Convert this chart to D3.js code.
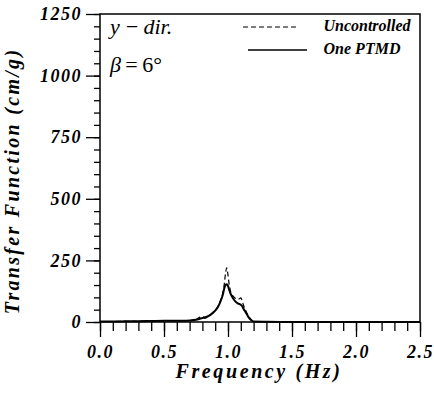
<!DOCTYPE html>
<html>
<head>
<meta charset="utf-8">
<script src="https://cdn.jsdelivr.net/npm/d3@7"></script>
<style>
  body { margin: 0; background: #fff; }
  svg { display: block; }
</style>
</head>
<body>
<div id="chart"></div>
<script>
// data
var freq = [0, 0.1, 0.2, 0.3, 0.4, 0.5, 0.55, 0.6, 0.65, 0.7, 0.75, 0.78, 0.8, 0.82, 0.85, 0.88, 0.9, 0.92, 0.94, 0.96, 0.97, 0.98, 0.99, 1.0, 1.01, 1.02, 1.04, 1.06, 1.08, 1.1, 1.11, 1.12, 1.14, 1.16, 1.18, 1.2, 1.3, 1.5, 2.0, 2.5]
var uncontrolled = [2, 2, 3, 3, 4, 6, 6, 5, 5, 6, 10, 20, 22, 15, 25, 38, 48, 62, 85, 120, 150, 195, 220, 190, 150, 125, 105, 95, 92, 98, 88, 70, 45, 25, 10, 2, 1, 0, 0, 0]
var onePTMD = [2, 2, 3, 3, 4, 5, 5, 5, 5, 6, 9, 13, 16, 19, 25, 36, 46, 60, 82, 112, 135, 150, 153, 146, 130, 115, 95, 82, 75, 70, 65, 55, 38, 20, 8, 2, 1, 0, 0, 0]
var xTicks = [0, 0.5, 1.0, 1.5, 2.0, 2.5]
var yTicks = [0, 250, 500, 750, 1000, 1250]

var margin = {top: 14, right: 14, bottom: 71, left: 100},
    width = 434 - margin.left - margin.right,
    height = 393 - margin.top - margin.bottom;

var svg = d3.select("#chart")
  .append("svg")
    .attr("width", 434)
    .attr("height", 393)
  .append("g")
    .attr("transform", "translate(" + margin.left + "," + margin.top + ")");

var x = d3.scaleLinear().domain([0, 2.5]).range([0, width])
var y = d3.scaleLinear().domain([0, 1250]).range([height, 0])

var serif = "'Liberation Serif', 'Times New Roman', serif"

// minor ticks
svg.append("g")
  .attr("transform", "translate(0," + height + ")")
  .call(d3.axisBottom(x).tickValues(d3.range(0, 2.51, 0.1)).tickSize(9).tickFormat(""))
  .call(g => g.select(".domain").remove())
svg.append("g")
  .call(d3.axisLeft(y).tickValues(d3.range(0, 1251, 50)).tickSize(6).tickFormat(""))
  .call(g => g.select(".domain").remove())

// major ticks
var xAxis = svg.append("g")
  .attr("transform", "translate(0," + height + ")")
  .call(d3.axisBottom(x).tickValues(xTicks).tickSize(15).tickPadding(8).tickFormat(d3.format(".1f")))
xAxis.select(".domain").remove()
var yAxis = svg.append("g")
  .call(d3.axisLeft(y).tickValues(yTicks).tickSize(14).tickPadding(4).tickFormat(d3.format("d")))
yAxis.select(".domain").remove()

svg.selectAll(".tick line").attr("stroke", "#000").attr("stroke-width", 1.3)
svg.selectAll(".tick text")
  .attr("font-family", serif)
  .attr("font-weight", "bold")
  .attr("font-style", "italic")
  .attr("font-size", 18)
  .attr("letter-spacing", 1.5)
  .attr("fill", "#000")

// frame
svg.append("path")
  .attr("d", "M0," + height + "V0H" + width + "V" + height + "H0")
  .attr("fill", "none")
  .attr("stroke", "#000")
  .attr("stroke-width", 1.5)

var line = d3.line()
  .x(function(d) { return x(d[0]) })
  .y(function(d) { return y(d[1]) })
  .curve(d3.curveMonotoneX)

svg.append("path")
  .datum(d3.zip(freq, uncontrolled))
  .attr("d", line)
  .attr("fill", "none")
  .attr("stroke", "#000")
  .attr("stroke-width", 1.2)
  .attr("stroke-dasharray", "5,3")

svg.append("path")
  .datum(d3.zip(freq, onePTMD))
  .attr("d", line)
  .attr("fill", "none")
  .attr("stroke", "#000")
  .attr("stroke-width", 2)

// axis titles
svg.append("text")
  .attr("x", width / 2 - 1)
  .attr("y", height + 56)
  .attr("text-anchor", "middle")
  .attr("font-family", serif)
  .attr("font-weight", "bold")
  .attr("font-style", "italic")
  .attr("font-size", 20)
  .attr("letter-spacing", 2.6)
  .text("Frequency (Hz)")

svg.append("text")
  .attr("transform", "translate(-81," + (height / 2 + 13) + ") rotate(-90)")
  .attr("text-anchor", "middle")
  .attr("font-family", serif)
  .attr("font-weight", "bold")
  .attr("font-style", "italic")
  .attr("font-size", 20)
  .attr("letter-spacing", 2.3)
  .text("Transfer Function (cm/g)")

// annotations
svg.append("text")
  .attr("x", 10).attr("y", 20)
  .attr("font-family", serif)
  .attr("font-style", "italic")
  .attr("font-size", 22)
  .text("y\u2009\u2212\u2009dir.")
var beta = svg.append("text")
  .attr("x", 10).attr("y", 58)
  .attr("font-family", serif)
  .attr("font-size", 22)
beta.append("tspan").attr("font-style", "italic").text("\u03b2")
beta.append("tspan").text("\u2009=\u20096\u00b0")

// legend
var legend = [
  {name: "Uncontrolled", dash: "5,3", w: 1.2, x0: 143, x1: 198, ly: 13, tx: 267, ty: 17},
  {name: "One PTMD", dash: null, w: 1.6, x0: 148, x1: 207, ly: 36, tx: 262, ty: 40}
]
var lg = svg.append("g")
lg.selectAll("line").data(legend).enter().append("line")
  .attr("x1", d => d.x0).attr("x2", d => d.x1)
  .attr("y1", d => d.ly).attr("y2", d => d.ly)
  .attr("stroke", "#000")
  .attr("stroke-width", d => d.w)
  .attr("stroke-dasharray", d => d.dash)
lg.selectAll("text").data(legend).enter().append("text")
  .attr("x", d => d.tx).attr("y", d => d.ty)
  .attr("text-anchor", "middle")
  .attr("font-family", serif)
  .attr("font-weight", "bold")
  .attr("font-style", "italic")
  .attr("font-size", 16)
  .text(d => d.name)
</script>
</body>
</html>
